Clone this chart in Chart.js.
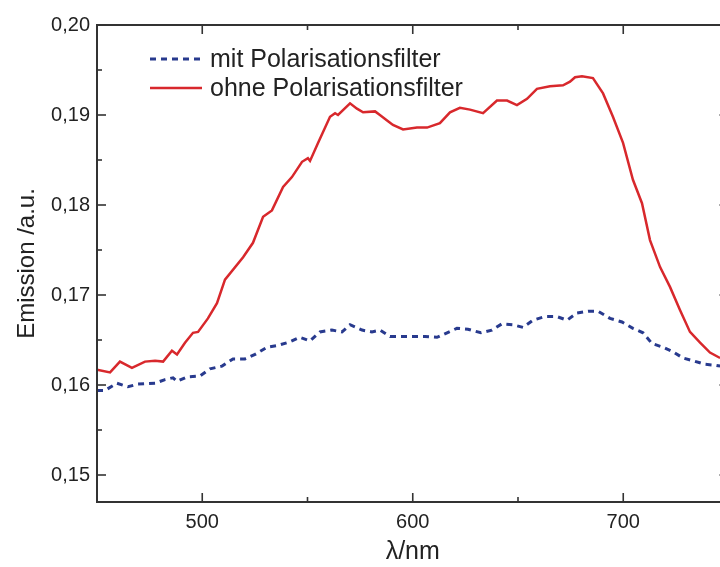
<!DOCTYPE html>
<html>
<head>
<meta charset="utf-8">
<script src="https://cdn.jsdelivr.net/npm/chart.js@4"></script>
<style>
  html, body { margin: 0; padding: 0; background: #fff; overflow: hidden; width: 720px; height: 567px; }
  canvas { display: block; }
</style>
</head>
<body>
<canvas id="c" width="760" height="567"></canvas>
<script>
// Emission spectra, wavelength in nm and emission in arbitrary units
const ohneNm = [450, 456.2, 460.9, 466.6, 472.8, 477.6, 481.4, 485.6, 488.0, 491.8, 495.6, 498.0, 502.7, 507.0, 510.8, 519.4, 524.1, 528.9, 533.1, 538.4, 542.6, 547.4, 550.2, 551.2, 555.0, 560.7, 563.1, 564.5, 570.2, 573.5, 576.4, 582.1, 584.4, 587.8, 590.6, 595.4, 602.0, 606.8, 612.9, 617.7, 622.4, 627.2, 633.4, 640.0, 644.8, 649.5, 654.3, 659.0, 665.2, 671.4, 674.7, 677.1, 680.4, 685.6, 690.4, 695.1, 699.9, 704.6, 708.9, 712.7, 717.5, 722.2, 727.0, 731.7, 736.5, 741.2, 746.0];
const ohneVal = [0.1617, 0.1614, 0.1626, 0.1619, 0.1626, 0.1627, 0.1626, 0.1638, 0.1634, 0.1647, 0.1658, 0.1659, 0.1674, 0.1691, 0.1717, 0.1742, 0.1758, 0.1787, 0.1794, 0.1820, 0.1831, 0.1848, 0.1852, 0.1849, 0.1869, 0.1898, 0.1902, 0.1900, 0.1913, 0.1907, 0.1903, 0.1904, 0.1900, 0.1894, 0.1889, 0.1884, 0.1886, 0.1886, 0.1891, 0.1903, 0.1908, 0.1906, 0.1902, 0.1916, 0.1916, 0.1911, 0.1918, 0.1929, 0.1932, 0.1933, 0.1937, 0.1942, 0.1943, 0.1941, 0.1924, 0.1898, 0.1869, 0.1828, 0.1802, 0.1761, 0.1731, 0.1709, 0.1683, 0.1659, 0.1647, 0.1636, 0.1630];

const mitNm = [450, 453.8, 459.5, 464.7, 469.5, 477.6, 482.3, 486.1, 488.0, 492.8, 498.9, 503.7, 509.4, 514.6, 520.3, 525.1, 530.8, 536.0, 541.7, 546.4, 551.2, 555.9, 561.6, 566.4, 570.2, 575.9, 580.6, 584.4, 589.2, 594.9, 600.1, 605.8, 611.5, 616.3, 621.0, 626.2, 632.4, 637.6, 642.4, 647.6, 652.4, 657.1, 662.8, 668.5, 673.3, 678.0, 683.3, 688.0, 693.7, 699.4, 704.6, 709.4, 713.7, 718.9, 723.6, 728.4, 733.1, 738.8, 743.6, 746.0];
const mitVal = [0.1594, 0.1594, 0.1602, 0.1598, 0.1601, 0.1602, 0.1606, 0.1608, 0.1604, 0.1609, 0.1610, 0.1618, 0.1621, 0.1629, 0.1629, 0.1634, 0.1642, 0.1644, 0.1648, 0.1653, 0.1649, 0.1659, 0.1661, 0.1659, 0.1667, 0.1661, 0.1659, 0.1661, 0.1654, 0.1654, 0.1654, 0.1654, 0.1653, 0.1658, 0.1663, 0.1662, 0.1658, 0.1661, 0.1668, 0.1667, 0.1664, 0.1672, 0.1676, 0.1676, 0.1672, 0.1680, 0.1682, 0.1682, 0.1674, 0.1670, 0.1663, 0.1658, 0.1646, 0.1642, 0.1637, 0.1630, 0.1627, 0.1623, 0.1622, 0.1621];

const seriesLabels = ['mit Polarisationsfilter', 'ohne Polarisationsfilter'];
const xTickValues = [500, 600, 700];
const xMinorValues = [550, 650, 750];
const yTickValues = [0.15, 0.16, 0.17, 0.18, 0.19, 0.20];
const yMinorValues = [0.155, 0.165, 0.175, 0.185, 0.195];

const toPoints = (xs, ys) => xs.map((x, i) => ({ x: x, y: ys[i] }));

const AXIS_COLOR = '#333';
const TEXT_COLOR = '#222';
const FONT = "'Liberation Sans', Arial, sans-serif";

// frame, inward ticks on all four sides, and the inset legend
const framePlugin = {
  id: 'frame',
  afterDraw(chart) {
    const { ctx, chartArea: a, scales: { x, y } } = chart;
    ctx.save();
    ctx.strokeStyle = AXIS_COLOR;
    ctx.lineWidth = 2;
    ctx.strokeRect(a.left, a.top, a.right - a.left, a.bottom - a.top);
    const tick = (x1, y1, x2, y2) => { ctx.beginPath(); ctx.moveTo(x1, y1); ctx.lineTo(x2, y2); ctx.stroke(); };
    ctx.lineWidth = 1.6;
    xTickValues.forEach(v => { const px = x.getPixelForValue(v); tick(px, a.bottom, px, a.bottom - 9); tick(px, a.top, px, a.top + 9); });
    xMinorValues.forEach(v => { const px = x.getPixelForValue(v); tick(px, a.bottom, px, a.bottom - 5); tick(px, a.top, px, a.top + 5); });
    yTickValues.forEach(v => { const py = y.getPixelForValue(v); tick(a.left, py, a.left + 9, py); tick(a.right, py, a.right - 9, py); });
    yMinorValues.forEach(v => { const py = y.getPixelForValue(v); tick(a.left, py, a.left + 5, py); tick(a.right, py, a.right - 5, py); });

    // legend
    const lx0 = a.left + 53, lx1 = a.left + 105, tx = a.left + 113;
    const rows = [a.top + 34, a.top + 63];
    chart.data.datasets.forEach((ds, i) => {
      const ly = rows[i];
      ctx.strokeStyle = ds.borderColor;
      ctx.lineWidth = ds.borderWidth;
      ctx.setLineDash(ds.borderDash || []);
      tick(lx0, ly, lx1, ly);
      ctx.setLineDash([]);
      ctx.fillStyle = TEXT_COLOR;
      ctx.font = '25px ' + FONT;
      ctx.textBaseline = 'middle';
      ctx.textAlign = 'left';
      ctx.fillText(ds.label, tx, ly + 1);
    });
    ctx.restore();
  }
};

new Chart(document.getElementById('c'), {
  type: 'line',
  data: {
    datasets: [
      {
        label: seriesLabels[0],
        data: toPoints(mitNm, mitVal),
        borderColor: '#283a8e',
        borderWidth: 3,
        borderDash: [6, 5],
        pointRadius: 0,
        tension: 0
      },
      {
        label: seriesLabels[1],
        data: toPoints(ohneNm, ohneVal),
        borderColor: '#d8282c',
        borderWidth: 2.5,
        pointRadius: 0,
        tension: 0
      }
    ]
  },
  options: {
    responsive: false,
    animation: false,
    devicePixelRatio: 1,
    layout: { padding: { top: 25, right: 31.5, left: 0, bottom: 0 } },
    plugins: { legend: { display: false }, tooltip: { enabled: false } },
    scales: {
      x: {
        type: 'linear',
        min: 450,
        max: 750,
        grid: { display: false, drawTicks: false },
        border: { display: false },
        afterBuildTicks: s => { s.ticks = xTickValues.map(v => ({ value: v })); },
        afterFit: s => { s.height = 65; },
        ticks: { color: TEXT_COLOR, font: { family: FONT, size: 20 }, padding: 8, maxRotation: 0 },
        title: { display: true, text: 'λ/nm', color: TEXT_COLOR, font: { family: FONT, size: 25 }, padding: { top: 0, bottom: 0 } }
      },
      y: {
        min: 0.147,
        max: 0.20,
        grid: { display: false, drawTicks: false },
        border: { display: false },
        afterBuildTicks: s => { s.ticks = yTickValues.map(v => ({ value: v })); },
        afterFit: s => { s.width = 97; },
        ticks: {
          color: TEXT_COLOR,
          font: { family: FONT, size: 20 },
          padding: 7,
          callback: v => v.toFixed(2).replace('.', ',')
        },
        title: { display: true, text: 'Emission /a.u.', color: TEXT_COLOR, font: { family: FONT, size: 24 }, padding: { top: 13, bottom: 0 } }
      }
    }
  },
  plugins: [framePlugin]
});
</script>
</body>
</html>
